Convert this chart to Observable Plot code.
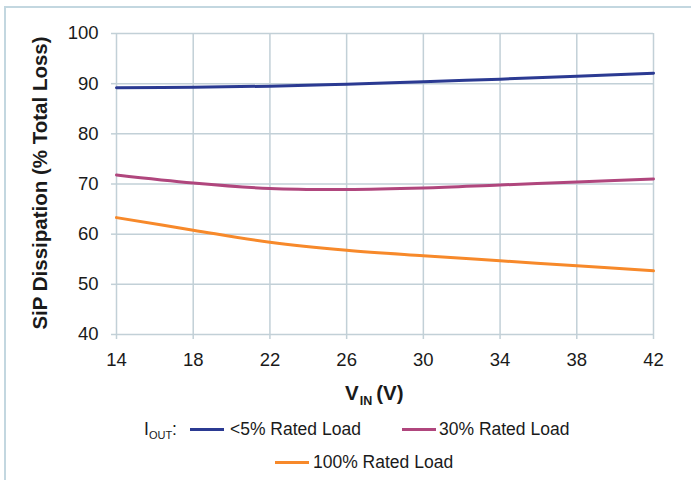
<!DOCTYPE html>
<html>
<head>
<meta charset="utf-8">
<script src="https://cdn.jsdelivr.net/npm/d3@7"></script>
<script src="https://cdn.jsdelivr.net/npm/@observablehq/plot@0.6"></script>
<style>
  html, body { margin: 0; padding: 0; background: #fff; }
  body { width: 691px; height: 480px; position: relative; overflow: hidden; font-family: "Liberation Sans", Arial, sans-serif; color: #1a1a1a; }
  #frame { position: absolute; left: 4px; top: 6px; width: 690px; height: 480px; border-top: 2px solid #c3d7e0; border-left: 2px solid #c3d7e0; box-sizing: border-box; }
  #chart { position: absolute; left: 0; top: 0; }
  #xtitle { position: absolute; top: 381px; left: 345px; white-space: nowrap; font-weight: bold; font-size: 20.5px; line-height: 24px; }
  #xtitle span.in { display: inline-block; font-size: 12.5px; transform: translateY(5px); margin: 0 4px 0 1px; }
  .leg { position: absolute; font-size: 17.5px; white-space: nowrap; line-height: 20px; }
  .sw { position: absolute; height: 3px; width: 34px; }
  .iout sub { font-size: 11px; vertical-align: -4px; }
</style>
</head>
<body>
<div id="frame"></div>
<div id="chart"></div>
<div id="xtitle">V<span class="in">IN</span>(V)</div>
<div id="legend"></div>
<script>
const vin = [14, 18, 22, 26, 30, 34, 38, 42];
const lowLoad = [89.2, 89.3, 89.5, 89.9, 90.4, 90.9, 91.5, 92.1];
const midLoad = [71.8, 70.2, 69.1, 68.9, 69.2, 69.8, 70.4, 71.0];
const fullLoad = [63.3, 60.8, 58.4, 56.8, 55.7, 54.7, 53.7, 52.7];
const seriesNames = ["<5% Rated Load", "30% Rated Load", "100% Rated Load"];
const seriesColors = ["#2b3a92", "#b0467d", "#f7892a"];
const yTicks = [40, 50, 60, 70, 80, 90, 100];
const xTicks = vin;

const seriesValues = [lowLoad, midLoad, fullLoad];
const rows = [];
seriesNames.forEach((name, i) => {
  vin.forEach((v, j) => rows.push({ vin: v, value: seriesValues[i][j], series: name }));
});

const grid = "#c2d0d7";
const chart = Plot.plot({
  width: 691,
  height: 372,
  marginLeft: 116,
  marginRight: 38,
  marginTop: 33,
  marginBottom: 38,
  style: { fontFamily: "Liberation Sans, Arial, sans-serif", fontSize: "18.5px", color: "#1a1a1a", background: "transparent" },
  x: { domain: [14, 42], ticks: xTicks, label: null },
  y: { domain: [40, 100], ticks: yTicks, label: null },
  color: { domain: seriesNames, range: seriesColors },
  marks: [
    Plot.gridX(xTicks, { stroke: grid, strokeOpacity: 1, strokeWidth: 1.5 }),
    Plot.gridY(yTicks, { stroke: grid, strokeOpacity: 1, strokeWidth: 1.5 }),
    Plot.axisX(xTicks, { tickSize: 5, tickPadding: 13, stroke: grid, strokeWidth: 1.5, label: null, fill: "#1a1a1a", fontSize: 18.5 }),
    Plot.axisY(yTicks, { tickSize: 5, tickPadding: 13, stroke: grid, strokeWidth: 1.5, label: null, fill: "#1a1a1a", fontSize: 18.5 }),
    Plot.line(rows, { x: "vin", y: "value", z: "series", stroke: "series", strokeWidth: 3, curve: "catmull-rom" })
  ]
});
document.getElementById("chart").appendChild(chart);

// Y axis title (bold, rotated)
d3.select(chart).append("text")
  .attr("transform", "translate(42,183) rotate(-90)")
  .attr("text-anchor", "middle")
  .attr("dominant-baseline", "middle")
  .attr("font-weight", "bold")
  .attr("font-size", "20.5px")
  .attr("fill", "#1a1a1a")
  .text("SiP Dissipation (% Total Loss)");

// Legend
const legend = document.getElementById("legend");
const io = document.createElement("div");
io.className = "leg iout";
io.style.left = "144px"; io.style.top = "419px";
io.innerHTML = "I<sub>OUT</sub>:";
legend.appendChild(io);
const legPos = [
  { sx: 190, tx: 230, y: 429 },
  { sx: 402, tx: 439, y: 429 },
  { sx: 275, tx: 313, y: 462 }
];
seriesNames.forEach((name, i) => {
  const sw = document.createElement("div");
  sw.className = "sw";
  sw.style.left = legPos[i].sx + "px";
  sw.style.top = (legPos[i].y - 1) + "px";
  sw.style.background = seriesColors[i];
  legend.appendChild(sw);
  const t = document.createElement("div");
  t.className = "leg";
  t.style.left = legPos[i].tx + "px";
  t.style.top = (legPos[i].y - 10) + "px";
  t.textContent = name;
  legend.appendChild(t);
});
</script>
</body>
</html>
